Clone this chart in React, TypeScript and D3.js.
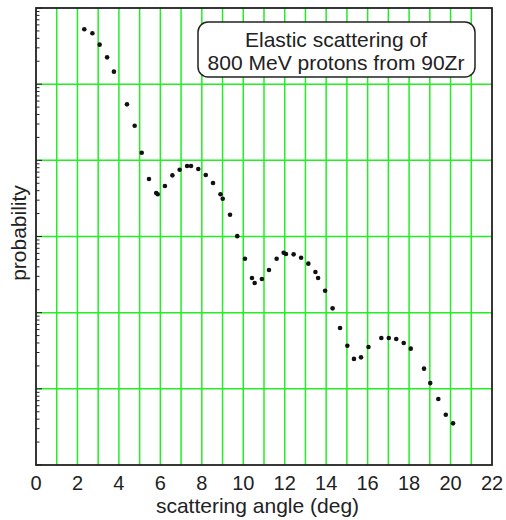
import React from "react";
import * as d3 from "d3";

// scattering angle (deg)
const angles = [
  2.33, 2.72, 3.07, 3.43, 3.76, 4.39, 4.76, 5.1, 5.45, 5.8, 5.87, 6.22, 6.58,
  6.93, 7.29, 7.48, 7.83, 8.19, 8.54, 8.9, 9.01, 9.36, 9.71, 10.08, 10.42,
  10.55, 10.9, 11.24, 11.61, 11.95, 12.06, 12.43, 12.79, 13.14, 13.48, 13.61,
  13.95, 14.31, 14.67, 15.02, 15.34, 15.68, 16.04, 16.66, 17.02, 17.38, 17.74,
  18.08, 18.72, 19.02, 19.41, 19.77, 20.12,
];

// probability (arbitrary units, log scale)
const probability = [
  5.25e5, 4.66e5, 3.3e5, 2.25e5, 1.46e5, 5.43e4, 2.85e4, 1.26e4, 5.69e3,
  3.72e3, 3.58e3, 4.6e3, 6.35e3, 7.53e3, 8.41e3, 8.41e3, 7.69e3, 6.41e3,
  5.04e3, 3.59e3, 3.13e3, 1.93e3, 1.01e3, 511, 285, 245, 277, 363, 511, 612,
  589, 583, 527, 440, 342, 285, 194, 114, 63.0, 36.8, 24.7, 25.9, 35.4, 46.5,
  46.5, 45.1, 40.0, 33.7, 18.4, 11.9, 7.35, 4.57, 3.52,
];

const xTickLabels = [0, 2, 4, 6, 8, 10, 12, 14, 16, 18, 20, 22];
const xGridValues = [1, 2, 3, 4, 5, 6, 7, 8, 9, 10, 11, 12, 13, 14, 15, 16, 17, 18, 19, 20, 21];
const xDomain = [0, 22];
const yDomain = [1, 1e6];
const xTitle = "scattering angle (deg)";
const yTitle = "probability";
const boxLines = ["Elastic scattering of", "800 MeV protons from 90Zr"];

export default function App() {
  const W = 506;
  const H = 520;
  const left = 36, right = 492, top = 8, bottom = 465;
  const x = d3.scaleLinear().domain(xDomain).range([left, right]);
  const y = d3.scaleLog().domain(yDomain).range([bottom, top]);
  const allTicks = y.ticks();
  const majors = allTicks.filter((v) => Math.abs(Math.log10(v) - Math.round(Math.log10(v))) < 1e-9);
  const minors = allTicks.filter((v) => !majors.includes(v));
  const innerMajors = majors.filter((v) => v > yDomain[0] && v < yDomain[1]);
  const green = "#22ee22";
  const ink = "#222";
  const font = "'Liberation Sans', Arial, Helvetica, sans-serif";

  return (
    <svg
      width={W}
      height={H}
      style={{ position: "absolute", left: 0, top: 0, background: "#fff" }}
      fontFamily={font}
    >
      <rect x={0} y={0} width={W} height={H} fill="#fff" />
      {xGridValues.map((v) => (
        <line key={"gx" + v} x1={x(v)} x2={x(v)} y1={top} y2={bottom} stroke={green} strokeWidth={1.5} />
      ))}
      {innerMajors.map((v) => (
        <line key={"gy" + v} x1={left} x2={right} y1={y(v)} y2={y(v)} stroke={green} strokeWidth={1.5} />
      ))}
      {minors.map((v, i) => (
        <line key={"mt" + i} x1={left} x2={left + 3.5} y1={y(v)} y2={y(v)} stroke={ink} strokeWidth={1} />
      ))}
      {majors.map((v, i) => (
        <line key={"Mt" + i} x1={left} x2={left + 6} y1={y(v)} y2={y(v)} stroke={ink} strokeWidth={1} />
      ))}
      <rect x={left} y={top} width={right - left} height={bottom - top} fill="none" stroke={ink} strokeWidth={1.8} />
      {angles.map((a, i) => (
        <circle key={"p" + i} cx={x(a)} cy={y(probability[i])} r={2.3} fill="#111" />
      ))}
      <rect x={198} y={22} width={277} height={55} rx={10} ry={10} fill="#fff" stroke={ink} strokeWidth={1.5} />
      {boxLines.map((t, i) => (
        <text key={"bl" + i} x={336} y={47 + i * 23} textAnchor="middle" fontSize={21} fill={ink}>
          {t}
        </text>
      ))}
      {xTickLabels.map((v) => (
        <text key={"xt" + v} x={x(v)} y={490} textAnchor="middle" fontSize={20} fill={ink}>
          {v}
        </text>
      ))}
      <text x={257.5} y={513} textAnchor="middle" fontSize={21} fill={ink}>
        {xTitle}
      </text>
      <text
        transform={`translate(26, 233) rotate(-90)`}
        textAnchor="middle"
        fontSize={21}
        fill={ink}
      >
        {yTitle}
      </text>
    </svg>
  );
}
